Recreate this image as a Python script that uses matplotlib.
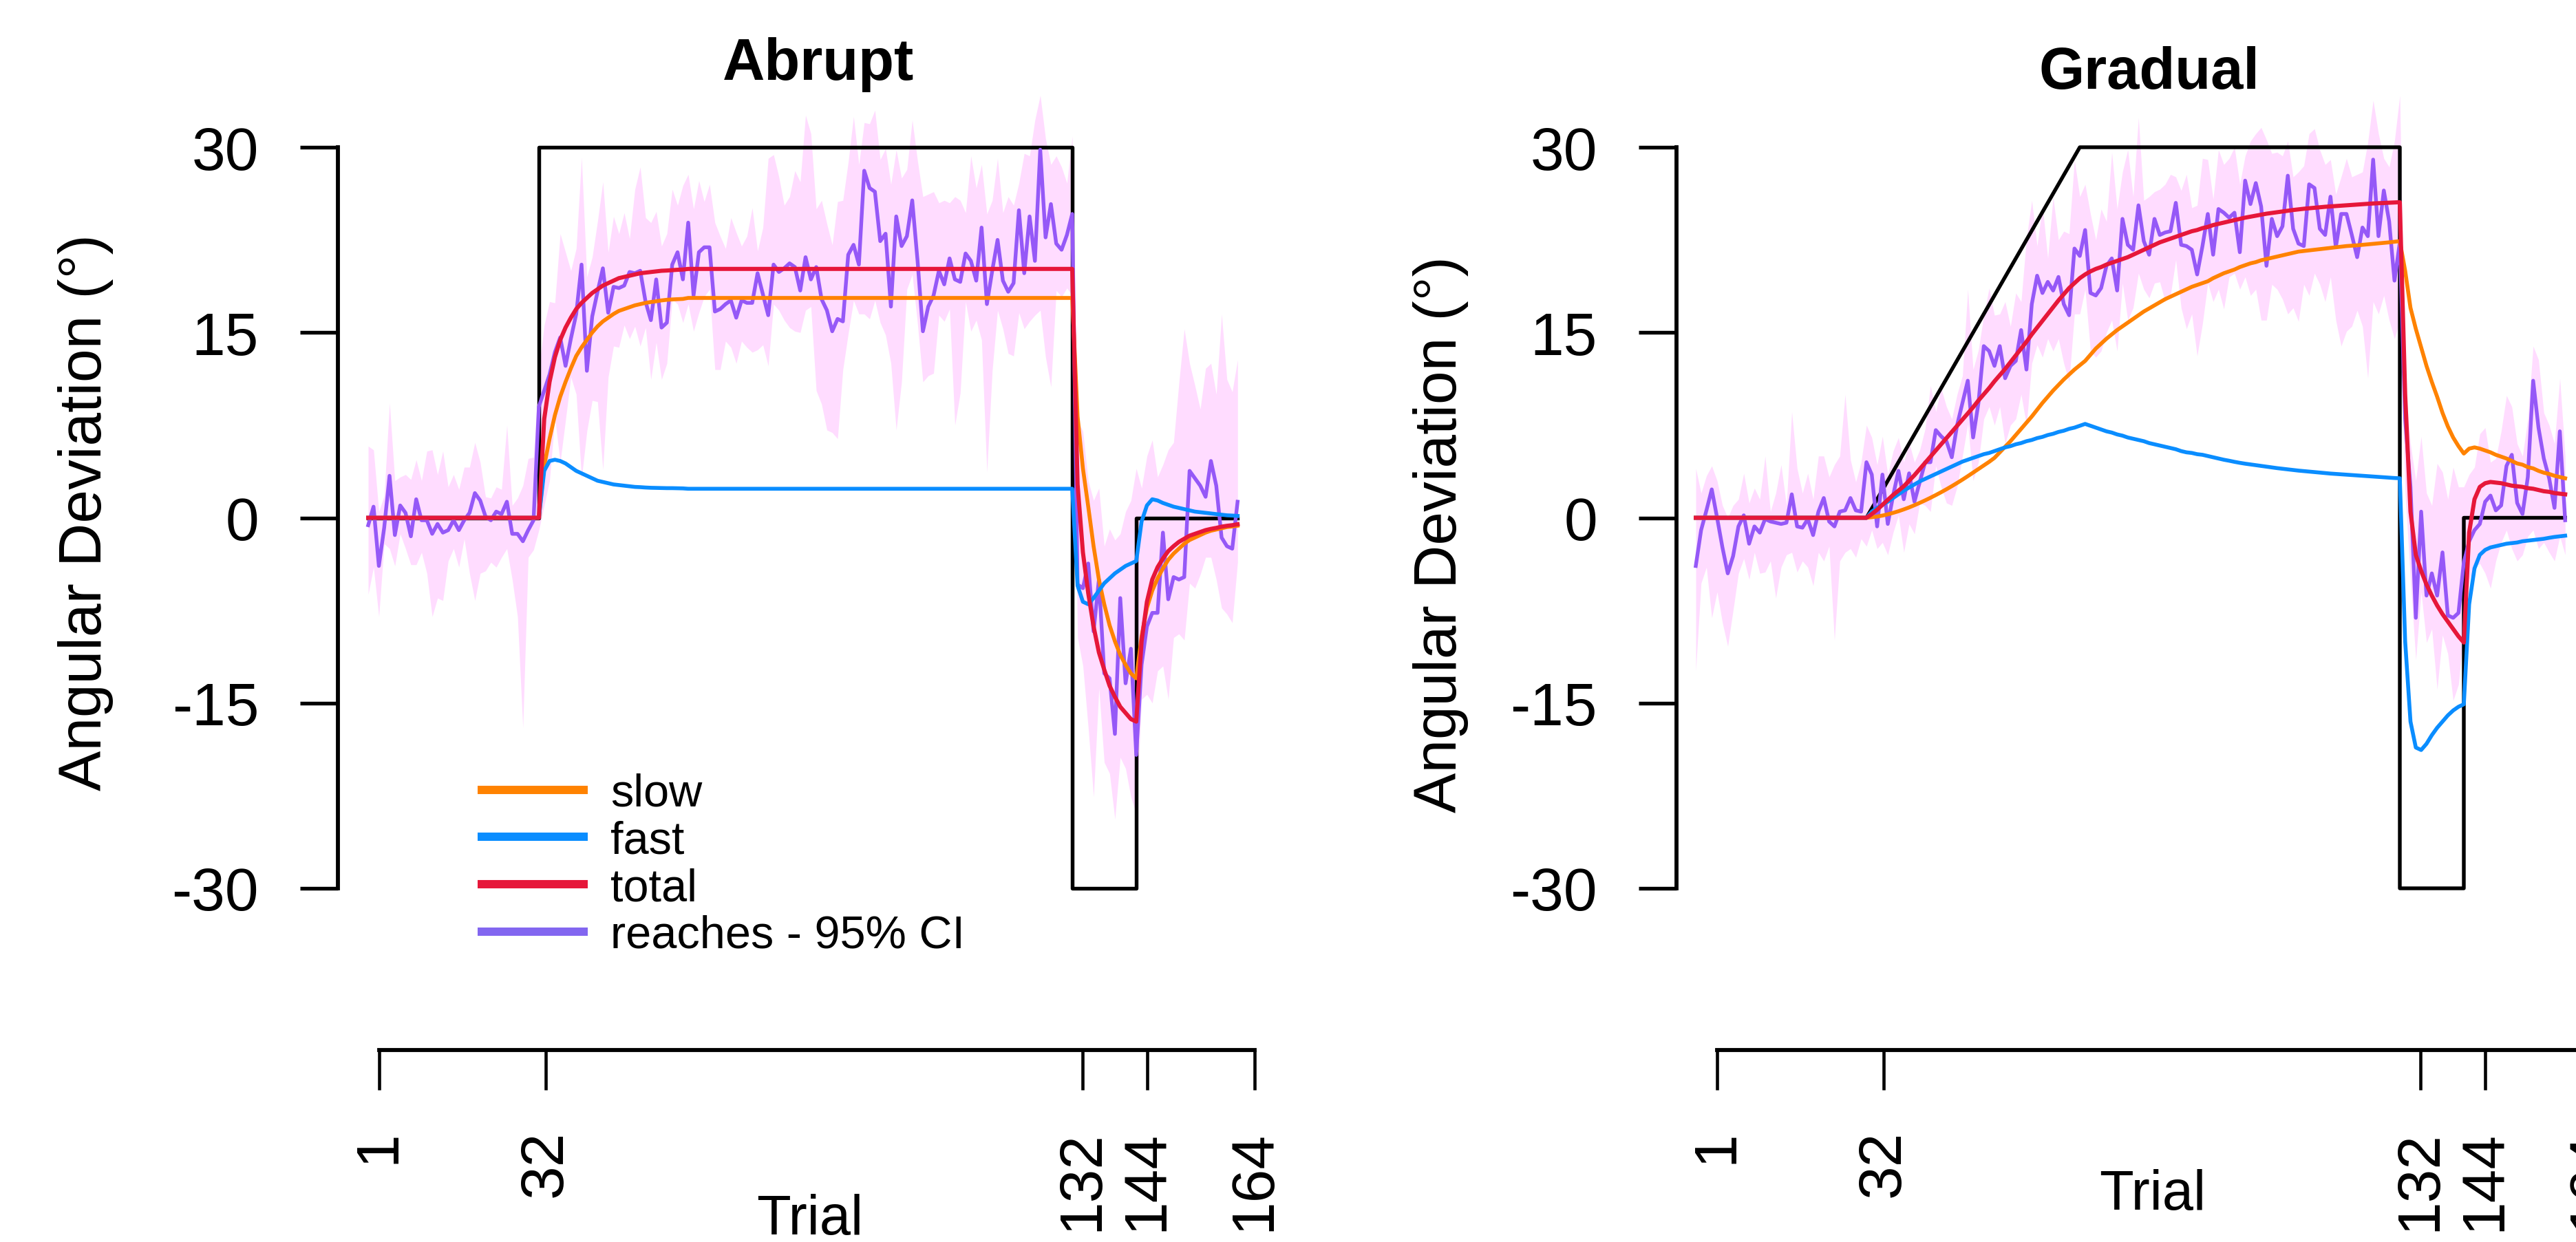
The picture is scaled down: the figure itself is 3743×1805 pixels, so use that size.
import numpy as np
import matplotlib.pyplot as plt
from matplotlib.lines import Line2D

plt.rcParams['font.family'] = ['Liberation Sans', 'DejaVu Sans']
plt.rcParams['axes.unicode_minus'] = False

W, H, DPI = 3743, 1806, 300

trials = np.arange(1, 165)
x_ticks = [1, 32, 132, 144, 164]
y_ticks = [-30, -15, 0, 15, 30]

# perturbation schedules (breakpoints)
abrupt_sched_x = [1, 33, 33, 133, 133, 145, 145, 164]
abrupt_sched_y = [0, 0, 30, 30, -30, -30, 0, 0]
gradual_sched_x = [1, 33, 73, 133, 133, 145, 145, 164]
gradual_sched_y = [0, 0, 30, 30, -30, -30, 0, 0]

# ---------------- abrupt group ----------------
abrupt_reach = [
    -0.6, 0.9, -3.9, -0.8, 3.4, -1.4, 1.0, 0.4, -1.5, 1.5,
    -0.2, -0.2, -1.3, -0.5, -1.2, -1.0, -0.2, -1.0, -0.2, 0.4,
    2.0, 1.4, 0.1, -0.2, 0.5, 0.3, 1.3, -1.3, -1.3, -1.9,
    -1.0, -0.2, 9.0, 10.3, 11.6, 13.4, 14.6, 12.3, 14.5, 16.5,
    20.5, 11.9, 16.3, 18.3, 20.2, 16.6, 18.7, 18.6, 18.8, 19.9,
    19.8, 20.0, 17.5, 16.0, 19.3, 15.4, 15.8, 20.5, 21.5, 19.3,
    23.9, 18.0, 21.5, 21.9, 21.9, 16.7, 16.9, 17.3, 17.6, 16.2,
    17.6, 17.4, 17.4, 19.8, 18.1, 16.4, 20.5, 19.9, 20.2, 20.6,
    20.3, 18.4, 21.1, 19.3, 20.3, 17.7, 16.8, 15.1, 16.1, 15.9,
    21.3, 22.1, 20.5, 28.1, 26.7, 26.4, 22.4, 23.0, 17.1, 24.4,
    22.0, 22.8, 25.7, 20.8, 15.1, 17.1, 18.0, 20.0, 18.9, 21.0,
    19.3, 19.1, 21.4, 20.8, 19.2, 23.5, 17.3, 20.0, 22.5, 19.2,
    18.3, 19.0, 24.9, 19.8, 24.4, 20.8, 29.8, 22.7, 25.4, 22.2,
    21.7, 22.9, 24.6, -5.4, -5.7, -3.7, -9.2, -5.0, -12.6, -13.0,
    -17.5, -6.5, -13.4, -10.6, -19.2, -11.9, -8.8, -7.7, -7.7, -1.2,
    -6.6, -4.8, -5.0, -4.8, 3.8, 3.2, 2.6, 1.7, 4.6, 2.6,
    -1.6, -2.3, -2.5, 1.3]

abrupt_ci_lo = [
    -6.2, -4.0, -8.0, -2.1, -2.5, -3.9, -1.3, -2.5, -3.8, -3.8,
    -2.8, -4.5, -8.0, -6.5, -6.7, -3.5, -2.5, -4.0, -1.7, -4.5,
    -6.7, -4.5, -4.3, -3.6, -4.0, -3.2, -2.5, -5.0, -8.0, -17.0,
    -3.2, -2.6, -1.0, 1.0, 3.0, 8.1, 4.5, 7.9, 11.4, 10.0,
    3.2, 7.0, 9.5, 9.4, 3.9, 11.4, 13.9, 13.8, 15.6, 14.5,
    15.5, 13.9, 15.4, 11.2, 14.2, 11.2, 12.5, 17.7, 17.3, 15.8,
    17.3, 15.1, 16.6, 17.9, 18.5, 12.0, 12.0, 14.3, 13.8, 12.5,
    14.3, 13.8, 13.4, 13.6, 14.0, 12.3, 17.3, 16.8, 16.0, 15.4,
    15.1, 15.0, 16.8, 17.1, 10.3, 9.2, 7.1, 6.9, 6.4, 12.0,
    14.9, 17.6, 16.5, 16.5, 16.1, 17.6, 15.8, 14.8, 12.5, 7.1,
    11.0, 18.5, 19.7, 15.7, 11.0, 11.5, 11.7, 16.4, 15.9, 16.9,
    7.5, 10.1, 17.5, 15.1, 16.0, 14.4, 3.7, 11.9, 16.8, 15.3,
    13.3, 13.1, 16.6, 15.3, 15.9, 16.4, 16.8, 13.0, 10.6, 18.4,
    17.9, 18.6, 18.0, -9.7, -12.0, -17.0, -22.6, -13.8, -19.8, -20.7,
    -24.4, -19.4, -20.3, -22.6, -24.0, -14.7, -14.3, -15.0, -12.4, -12.0,
    -14.7, -9.7, -9.4, -9.9, -5.3, -5.7, -4.6, -3.2, -3.2, -5.0,
    -7.3, -7.8, -8.5, -3.6]

abrupt_ci_hi = [
    5.8, 5.5, 0.5, 1.8, 9.3, 3.0, 3.3, 3.5, 3.1, 4.7,
    3.0, 5.4, 5.5, 3.5, 5.4, 2.5, 3.5, 2.3, 4.1, 4.1,
    6.1, 4.5, 1.7, 1.6, 2.5, 2.3, 7.5, 1.0, 1.6, 2.6,
    4.8, 4.9, 12.0, 15.6, 17.5, 17.4, 23.0, 21.5, 20.0, 21.8,
    29.2, 19.5, 21.1, 24.0, 27.2, 21.5, 24.4, 23.0, 24.7, 22.6,
    26.6, 28.4, 24.3, 23.9, 24.8, 22.0, 23.0, 26.6, 25.3, 26.9,
    27.8, 25.0, 27.3, 25.6, 27.0, 23.9, 22.8, 21.8, 24.3, 23.1,
    22.0, 22.8, 25.1, 21.6, 23.5, 29.1, 29.4, 27.6, 25.3, 26.0,
    28.1, 27.2, 32.6, 31.1, 25.0, 25.7, 23.8, 22.1, 25.6, 25.7,
    28.8, 32.5, 28.6, 32.0, 31.9, 33.0, 29.0, 29.9, 27.0, 29.8,
    27.5, 28.2, 32.2, 28.9, 26.0, 26.2, 26.4, 25.5, 25.7, 25.5,
    26.0, 25.7, 24.7, 29.3, 26.7, 28.6, 24.6, 25.7, 29.1, 24.7,
    26.0, 25.3, 27.1, 29.5, 29.3, 32.2, 34.2, 30.7, 28.6, 29.3,
    28.4, 27.1, 30.9, 7.9, 7.0, 3.0, 1.4, 2.4, -2.3, -0.9,
    -1.8, -1.3, 0.5, 1.4, 4.0, 2.4, 5.0, 6.3, 3.3, 4.3,
    5.5, 6.1, 10.9, 15.3, 12.5, 10.7, 8.8, 12.1, 12.5, 10.0,
    16.5, 11.2, 10.2, 12.8]

abrupt_slow = [0.0] * 33 + [
    4.2, 6.4, 8.3, 9.8, 11.0, 12.1, 13.1, 13.8, 14.4, 15.0,
    15.5, 15.9, 16.2, 16.5, 16.75, 16.9, 17.05, 17.2, 17.3, 17.4,
    17.47, 17.53, 17.6, 17.65, 17.68, 17.7, 17.72] + [17.8] * 73 + [
    8.2, 4.0, 0.9, -2.3, -5.0, -7.0, -8.7, -10.0, -11.1, -11.9,
    -12.6, -13.0, -9.6, -7.3, -5.9, -4.9, -4.1, -3.4, -2.9, -2.5,
    -2.1, -1.8, -1.6, -1.4, -1.2, -1.05, -0.95, -0.85, -0.75, -0.7,
    -0.64]

abrupt_fast = [0.0] * 33 + [
    3.8, 4.6, 4.7, 4.6, 4.4, 4.1, 3.8, 3.6, 3.4, 3.2,
    3.0, 2.9, 2.8, 2.7, 2.65, 2.6, 2.55, 2.5, 2.48, 2.45,
    2.43, 2.42, 2.41, 2.4, 2.4, 2.39, 2.38] + [2.35] * 73 + [
    -5.5, -6.8, -7.0, -6.5, -5.9, -5.3, -4.9, -4.5, -4.2, -3.9,
    -3.7, -3.5, -0.3, 1.0, 1.5, 1.4, 1.2, 1.05, 0.9, 0.8,
    0.7, 0.6, 0.5, 0.45, 0.4, 0.35, 0.3, 0.25, 0.2, 0.18,
    0.15]

abrupt_total = [0.0] * 33 + [
    8.0, 11.0, 13.0, 14.4, 15.4, 16.2, 16.9, 17.4, 17.8, 18.2,
    18.5, 18.8, 19.0, 19.2, 19.4, 19.5, 19.6, 19.7, 19.8, 19.85,
    19.9, 19.95, 20.0, 20.02, 20.05, 20.08, 20.1] + [20.15] * 73 + [
    2.7, -2.8, -6.1, -8.8, -10.9, -12.3, -13.6, -14.5, -15.3, -15.8,
    -16.3, -16.5, -10.0, -6.8, -5.0, -4.0, -3.3, -2.7, -2.3, -1.95,
    -1.7, -1.45, -1.3, -1.15, -1.0, -0.9, -0.82, -0.72, -0.65, -0.6,
    -0.52]

# ---------------- gradual group ----------------
gradual_reach = [
    -3.9, -1.0, 0.6, 2.3, 0.0, -2.4, -4.5, -3.1, -0.7, 0.2,
    -2.1, -0.7, -1.2, -0.1, -0.3, -0.4, -0.5, -0.4, 1.9, -0.7,
    -0.8, -0.1, -1.4, 0.5, 1.6, -0.3, -0.7, 0.5, 0.6, 1.6,
    0.6, 0.5, 4.5, 3.5, -0.7, 3.5, -0.5, 1.8, 3.8, 1.5,
    3.6, 1.3, 2.9, 4.5, 4.5, 7.1, 6.6, 6.2, 4.9, 7.5,
    9.3, 11.1, 6.5, 9.3, 13.9, 13.5, 12.3, 13.9, 11.3, 12.3,
    12.7, 15.2, 12.0, 17.3, 19.6, 18.2, 19.1, 18.4, 19.5, 17.3,
    16.4, 21.8, 21.2, 23.3, 18.2, 18.0, 18.6, 20.4, 21.0, 18.4,
    24.2, 22.1, 21.7, 25.3, 22.4, 21.3, 24.2, 22.9, 23.1, 23.2,
    25.5, 22.1, 22.0, 21.7, 19.7, 22.0, 24.6, 21.3, 25.0, 24.7,
    24.3, 24.7, 21.5, 27.3, 25.4, 27.1, 25.2, 20.4, 24.2, 22.8,
    23.6, 27.7, 23.4, 22.2, 22.0, 27.0, 26.7, 23.4, 22.9, 26.0,
    21.9, 24.6, 24.6, 22.9, 21.1, 23.5, 22.8, 29.0, 22.8, 26.5,
    24.0, 19.2, 22.3, 8.0, 2.5, -8.1, 0.5, -6.3, -4.5, -6.3,
    -2.8, -7.9, -8.1, -7.7, -3.6, -1.9, -1.0, -0.5, 1.3, 1.8,
    0.6, 1.0, 4.2, 5.1, 1.2, 0.3, 3.3, 11.1, 7.3, 4.8,
    3.2, 0.8, 7.0, -0.2]

gradual_ci_lo = [
    -12.4, -5.3, -4.0, -8.1, -6.0, -8.5, -10.4, -7.5, -4.5, -3.3,
    -5.0, -2.8, -4.5, -4.4, -3.5, -6.5, -4.0, -3.0, -2.8, -4.4,
    -3.5, -4.0, -5.5, -2.8, -3.5, -2.3, -9.9, -3.5, -2.8, -2.5,
    -3.2, -1.7, -2.3, -1.0, -2.5, -2.0, -3.0, -1.2, 0.2, -2.8,
    -0.5, -1.3, 1.2, 1.0, 0.5, 4.2, 2.5, 1.2, 1.0, 2.5,
    5.0, 7.6, 3.0, 4.5, 8.0, 9.0, 7.5, 9.0, 6.0, 7.5,
    8.0, 10.0, 7.5, 12.5, 14.0, 13.0, 14.5, 13.5, 14.5, 12.5,
    11.0, 16.5, 16.5, 18.5, 13.5, 13.0, 13.5, 15.0, 16.0, 13.5,
    19.0, 16.0, 17.0, 19.8, 18.5, 17.8, 19.0, 19.1, 17.5, 18.0,
    20.9, 17.0, 15.3, 16.5, 13.1, 15.7, 19.0, 17.5, 18.5, 16.9,
    19.5, 19.8, 18.5, 19.5, 18.0, 18.5, 16.0, 16.0, 18.9, 18.5,
    17.7, 16.5, 17.0, 15.9, 18.9, 18.0, 19.8, 18.9, 17.5, 19.5,
    16.0, 13.9, 15.1, 15.5, 16.8, 15.5, 11.3, 17.5, 16.5, 18.0,
    16.0, 14.5, 16.0, 2.0, -5.0, -11.5, -6.0, -10.1, -9.0, -13.9,
    -9.5, -11.0, -14.8, -13.5, -9.0, -5.0, -4.0, -3.7, -4.5, -5.7,
    -3.5, -2.0, -1.0, -2.5, -3.5, -3.0, -1.5, -1.0, -2.5, -2.0,
    -2.8, -3.5, -1.5, -3.0]

gradual_ci_hi = [
    4.0, 2.0, 3.4, 4.2, 3.0, 1.0, 0.0, 1.0, 1.5, 3.6,
    1.2, 2.4, 1.5, 5.0, 0.5, 2.0, 4.3, 1.0, 8.6, 4.0,
    2.0, 3.6, 1.5, 5.0, 5.0, 3.3, 4.3, 5.0, 10.0, 4.7,
    2.9, 4.5, 7.5, 6.5, 4.3, 6.6, 3.5, 5.4, 6.5, 4.5,
    6.1, 4.5, 5.5, 7.2, 10.7, 8.6, 10.5, 9.0, 8.0, 10.0,
    11.5, 18.5, 12.0, 13.6, 16.4, 18.6, 16.4, 16.5, 17.5, 15.5,
    18.2, 17.5, 22.6, 25.7, 22.0, 25.3, 21.0, 26.0, 22.5, 23.2,
    23.0, 29.0, 26.0, 27.0, 24.6, 22.5, 25.0, 24.0, 29.6, 25.0,
    28.0, 29.8, 26.0, 32.4, 25.7, 26.0, 26.4, 26.6, 27.0, 27.8,
    27.6, 26.5, 27.8, 25.1, 25.3, 29.1, 29.0, 25.8, 29.8, 28.6,
    29.1, 30.0, 27.0, 29.3, 30.5, 31.1, 31.6, 30.6, 29.5, 29.6,
    29.3, 30.5, 27.6, 28.0, 28.5, 31.1, 31.5, 29.8, 28.6, 29.0,
    26.2, 27.6, 29.1, 27.6, 27.8, 28.0, 30.4, 33.8, 31.1, 29.1,
    28.4, 30.5, 34.2, 11.0, 6.0, 3.0, 6.6, 2.0, 1.0, 4.4,
    3.7, 1.5, 4.1, 2.5, 2.5, 3.5, 4.1, 6.8, 7.3, 4.5,
    4.8, 7.0, 9.9, 9.0, 6.0, 5.0, 8.0, 13.9, 12.8, 8.5,
    7.5, 6.0, 11.3, 5.0]

gradual_slow = [0.0] * 33 + [
    0.05, 0.1, 0.18, 0.28, 0.4, 0.53, 0.68, 0.84, 1.02, 1.21,
    1.41, 1.62, 1.84, 2.07, 2.31, 2.56, 2.82, 3.09, 3.37, 3.66,
    3.95, 4.24, 4.53, 4.85, 5.3, 5.75, 6.2, 6.7, 7.2, 7.7,
    8.2, 8.75, 9.3, 9.8, 10.3, 10.75, 11.2, 11.6, 12.0, 12.35,
    12.7,
    13.2, 13.7, 14.1, 14.5, 14.85, 15.2, 15.5, 15.8, 16.1, 16.4,
    16.7, 16.95, 17.2, 17.45, 17.7, 17.9, 18.1, 18.3, 18.5, 18.7,
    18.85, 19.0, 19.15, 19.4, 19.6, 19.8, 19.95, 20.1, 20.3, 20.45,
    20.6, 20.7, 20.85, 20.95, 21.05, 21.15, 21.25, 21.35, 21.45, 21.55,
    21.6, 21.65, 21.7, 21.75, 21.8, 21.85, 21.9, 21.95, 22.0, 22.03,
    22.06, 22.1, 22.14, 22.18, 22.22, 22.26, 22.3, 22.35, 22.4,
    20.0, 17.0, 15.3, 13.8, 12.3, 11.0, 9.8, 8.5, 7.4, 6.5,
    5.8, 5.2, 5.6, 5.7, 5.6, 5.45, 5.3, 5.1, 4.95, 4.8,
    4.6, 4.4, 4.3, 4.1, 4.0, 3.8, 3.65, 3.55, 3.4, 3.3,
    3.2]

gradual_fast = [0.0] * 33 + [
    0.5, 0.8, 1.05, 1.3, 1.6, 1.9, 2.2, 2.45, 2.7, 2.95,
    3.15, 3.35, 3.55, 3.75, 3.95, 4.15, 4.35,
    4.55, 4.7, 4.85, 5.0, 5.15, 5.25, 5.4, 5.55, 5.7, 5.8,
    5.95, 6.05, 6.2, 6.3, 6.45, 6.55, 6.7, 6.8, 6.95, 7.05,
    7.2, 7.3, 7.45, 7.6,
    7.45, 7.3, 7.15, 7.0, 6.9, 6.75, 6.65, 6.5, 6.4, 6.3,
    6.2, 6.05, 5.95, 5.85, 5.75, 5.65, 5.55, 5.4, 5.3, 5.25,
    5.15, 5.1, 5.0, 4.9, 4.8, 4.7, 4.62, 4.53, 4.45, 4.38,
    4.32, 4.26, 4.2, 4.14, 4.08, 4.02, 3.97, 3.92, 3.87, 3.82,
    3.78, 3.74, 3.7, 3.66, 3.62, 3.58, 3.55, 3.52, 3.49, 3.46,
    3.43, 3.4, 3.37, 3.34, 3.31, 3.28, 3.25, 3.22, 3.2,
    -10.0, -16.5, -18.6, -18.8, -18.3, -17.6, -17.0, -16.5, -16.0, -15.6,
    -15.3, -15.1, -7.0, -4.1, -3.0, -2.6, -2.4, -2.3, -2.2, -2.1,
    -2.05, -2.0, -1.9, -1.85, -1.8, -1.75, -1.7, -1.62, -1.55, -1.5,
    -1.45]

gradual_total = [0.0] * 33 + [
    0.3, 0.65, 1.05, 1.45, 1.85, 2.2, 2.55, 3.0, 3.45, 3.95,
    4.45, 4.95, 5.45, 5.95, 6.45, 6.95, 7.45, 7.95, 8.45, 8.95,
    9.5, 10.0, 10.5, 11.05, 11.55, 12.05, 12.6, 13.15, 13.7, 14.25,
    14.85, 15.4, 15.95, 16.5, 17.05, 17.6, 18.1, 18.6, 19.0, 19.4,
    19.7,
    19.95, 20.15, 20.3, 20.5, 20.65, 20.8, 20.95, 21.1, 21.3, 21.5,
    21.7, 21.9, 22.1, 22.3, 22.45, 22.6, 22.75, 22.9, 23.05, 23.2,
    23.3, 23.45, 23.55, 23.7, 23.8, 23.9, 24.0, 24.1, 24.2, 24.3,
    24.38, 24.46, 24.54, 24.62, 24.68, 24.74, 24.8, 24.86, 24.92, 24.97,
    25.02, 25.06, 25.1, 25.14, 25.18, 25.21, 25.24, 25.27, 25.3, 25.33,
    25.36, 25.39, 25.42, 25.45, 25.47, 25.49, 25.51, 25.53, 25.55,
    10.0, 0.5, -3.0, -4.3, -5.4, -6.3, -7.1, -7.8, -8.4, -9.0,
    -9.6, -10.1, -1.2, 1.5, 2.5, 2.8, 2.9, 2.85, 2.8, 2.7,
    2.6, 2.55, 2.5, 2.4, 2.35, 2.25, 2.15, 2.1, 2.0, 1.95,
    1.9]

COL_SLOW = '#ff8200'
COL_FAST = '#0a8dff'
COL_TOTAL = '#e6173a'
COL_REACH = '#9558f7'
COL_REACH_LEG = '#8266f0'
COL_CI = '#ffdcff'

# pixel layout of the two panels (reference image coordinates)
Y0_PX, Y_SCALE, Y_LIM = 753.5, 17.95, 36

panels = [
    dict(name='Abrupt', ax_x0=491, ax_x1=1880, px1=535, step=7.75,
         tx0=420, tx1=1900, tpx1=551, tstep=7.804,
         title_xy=(1189, 116), ylab_xy=(147, 745), xlab_xy=(1177, 1794),
         sx=abrupt_sched_x, sy=abrupt_sched_y, reach=abrupt_reach,
         lo=abrupt_ci_lo, hi=abrupt_ci_hi, slow=abrupt_slow,
         fast=abrupt_fast, total=abrupt_total),
    dict(name='Gradual', ax_x0=2436, ax_x1=3743, px1=2464, step=7.75,
         tx0=2400, tx1=3820, tpx1=2495, tstep=7.804,
         title_xy=(3123, 129), ylab_xy=(2116, 777), xlab_xy=(3128, 1758),
         sx=gradual_sched_x, sy=gradual_sched_y, reach=gradual_reach,
         lo=gradual_ci_lo, hi=gradual_ci_hi, slow=gradual_slow,
         fast=gradual_fast, total=gradual_total),
]


def px_axes(fig, x0, y0, x1, y1):
    return fig.add_axes([x0 / W, 1 - y1 / H, (x1 - x0) / W, (y1 - y0) / H])


def fig_xy(x, y):
    return x / W, 1 - y / H


fig = plt.figure(figsize=(W / DPI, H / DPI), dpi=DPI)

for p in panels:
    top = Y0_PX - Y_LIM * Y_SCALE
    bot = Y0_PX + Y_LIM * Y_SCALE
    ax = px_axes(fig, p['ax_x0'], top, p['ax_x1'], bot)
    ax.set_xlim(1 + (p['ax_x0'] - p['px1']) / p['step'],
                1 + (p['ax_x1'] - p['px1']) / p['step'])
    ax.set_ylim(-Y_LIM, Y_LIM)
    ax.patch.set_visible(False)
    for s in ['top', 'right', 'bottom']:
        ax.spines[s].set_visible(False)
    ax.spines['left'].set_bounds(-30, 30)
    ax.spines['left'].set_linewidth(1.4)
    ax.set_xticks([])
    ax.set_yticks(y_ticks)
    ax.set_yticklabels([str(v) for v in y_ticks])
    ax.tick_params(axis='y', length=13.2, width=1.3, pad=14.4, labelsize=21)

    ax.fill_between(trials, p['lo'], p['hi'], color=COL_CI, lw=0, zorder=1)
    ax.plot(p['sx'], p['sy'], color='black', lw=1.3, zorder=2)
    ax.plot(trials, p['reach'], color=COL_REACH, lw=1.3, zorder=3)
    ax.plot(trials, p['slow'], color=COL_SLOW, lw=1.35, zorder=4)
    ax.plot(trials, p['fast'], color=COL_FAST, lw=1.35, zorder=5)
    ax.plot(trials, p['total'], color=COL_TOTAL, lw=1.45, zorder=6)

    # detached trial axis underneath, like base R
    bx = px_axes(fig, p['tx0'], 1480, p['tx1'], 1527)
    bx.set_xlim(1 + (p['tx0'] - p['tpx1']) / p['tstep'],
                1 + (p['tx1'] - p['tpx1']) / p['tstep'])
    bx.set_ylim(0, 1)
    bx.patch.set_visible(False)
    for s in ['top', 'right', 'left']:
        bx.spines[s].set_visible(False)
    bx.spines['bottom'].set_bounds(1, 164)
    bx.spines['bottom'].set_linewidth(1.4)
    bx.set_yticks([])
    bx.set_xticks(x_ticks)
    bx.set_xticklabels([str(v) for v in x_ticks], rotation=90)
    bx.tick_params(axis='x', length=13.9, width=1.1, pad=13.9, labelsize=21)

    fig.text(*fig_xy(*p['title_xy']), p['name'], ha='center', va='baseline',
             fontsize=20.4, fontweight='bold')
    fig.text(*fig_xy(*p['ylab_xy']), 'Angular Deviation (°)', rotation=90,
             rotation_mode='anchor', ha='center', va='baseline', fontsize=21)
    fig.text(*fig_xy(*p['xlab_xy']), 'Trial', ha='center', va='baseline',
             fontsize=19.5)

    if p['name'] == 'Abrupt':
        handles = [Line2D([], [], color=c, lw=2.9, solid_capstyle='butt')
                   for c in [COL_SLOW, COL_FAST, COL_TOTAL, COL_REACH_LEG]]
        ax.legend(handles, ['slow', 'fast', 'total', 'reaches - 95% CI'],
                  loc='upper left', bbox_to_anchor=fig_xy(694, 1124),
                  bbox_transform=fig.transFigure, frameon=False, fontsize=16,
                  handlelength=2.4, handletextpad=0.5, labelspacing=0.1,
                  borderaxespad=0, borderpad=0)

fig.savefig('out.png', dpi=DPI)
